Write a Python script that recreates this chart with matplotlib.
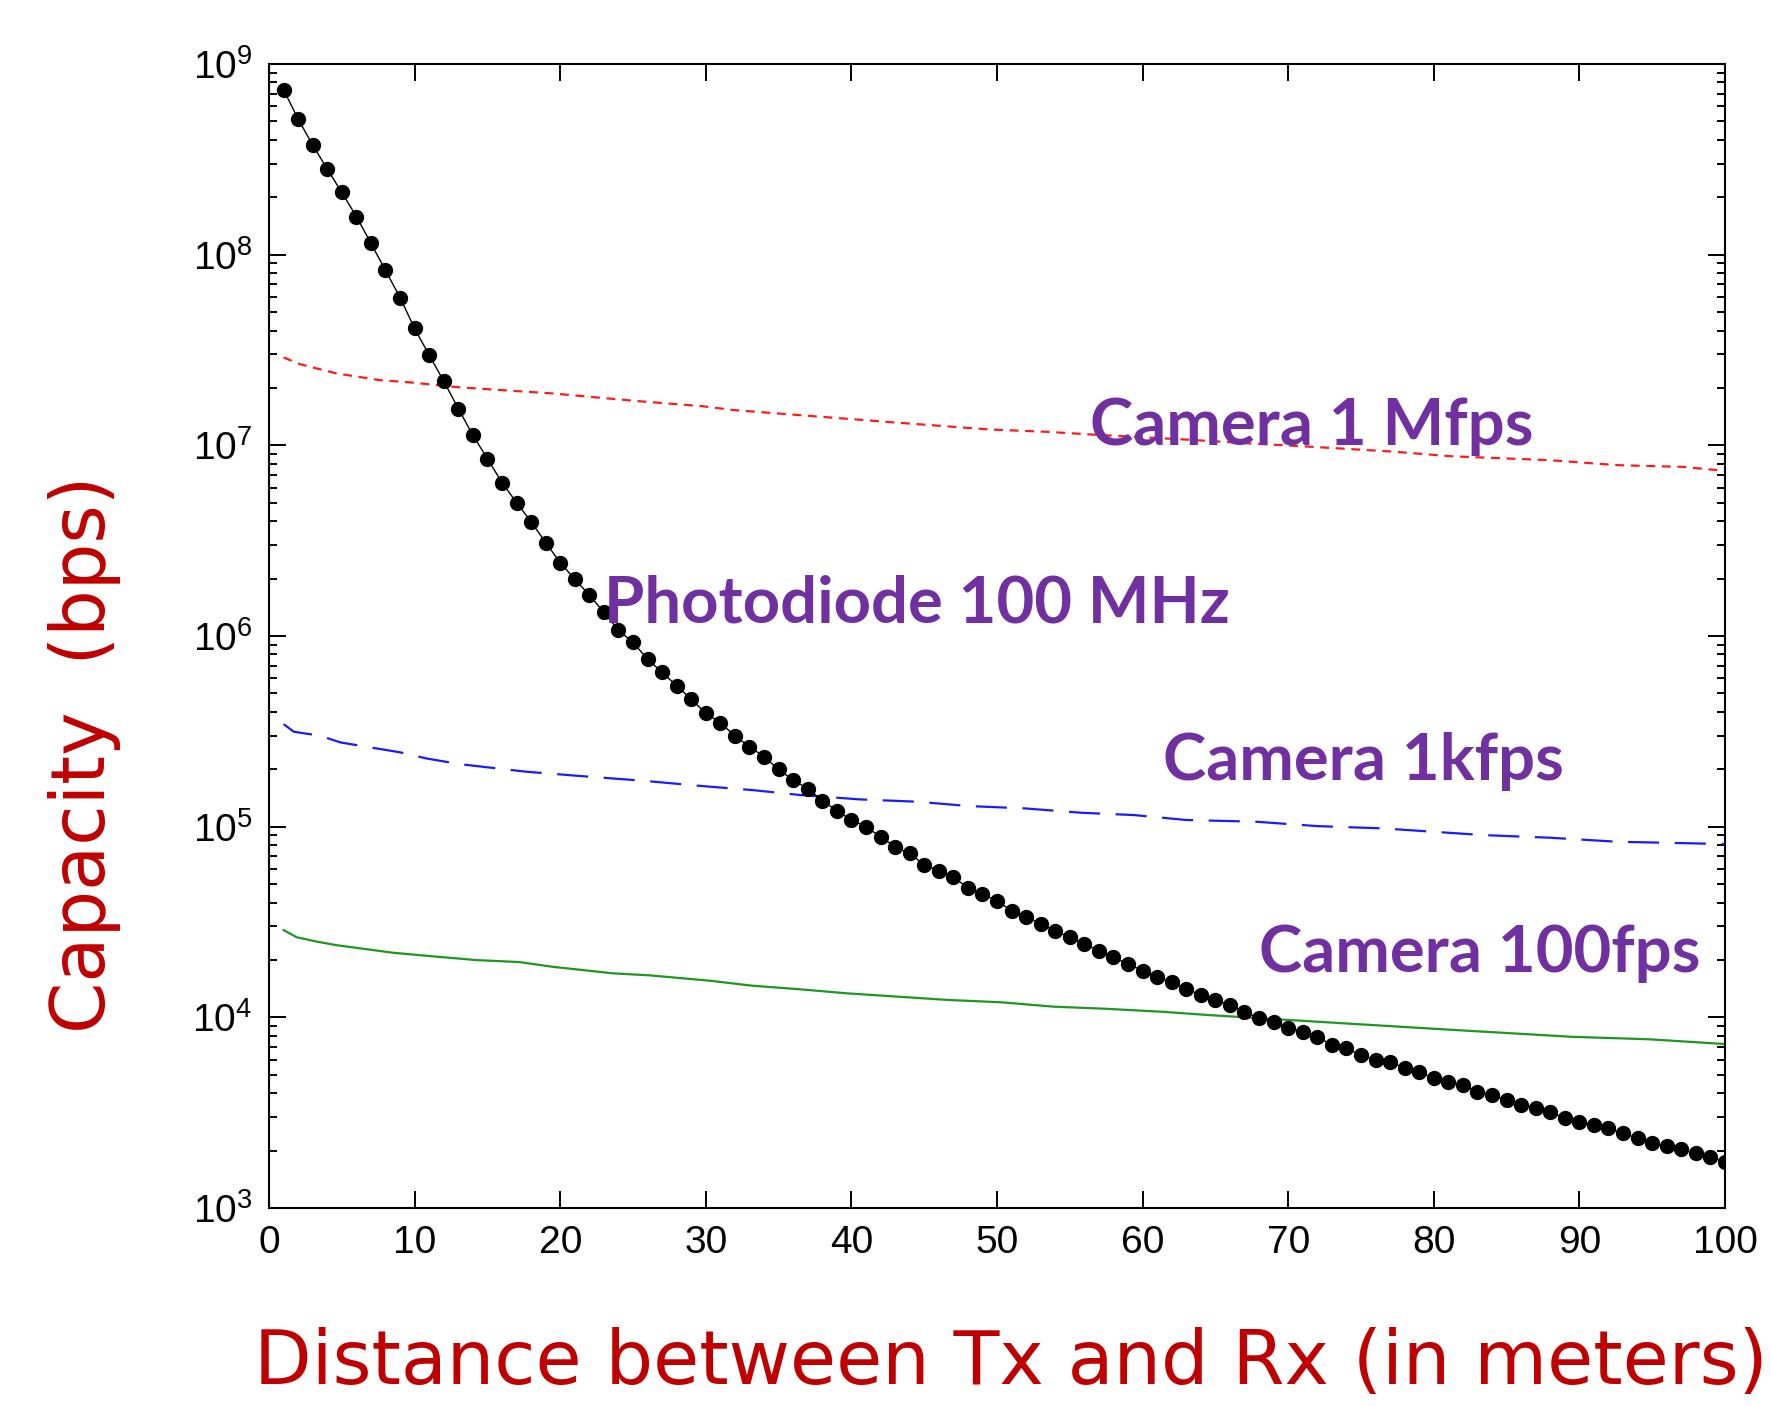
import numpy as np
import matplotlib
matplotlib.use("Agg")
import matplotlib.pyplot as plt
from matplotlib.ticker import FixedLocator, FuncFormatter, LogLocator, NullFormatter

plt.rcParams['mathtext.fontset'] = 'custom'
plt.rcParams['mathtext.rm'] = 'Liberation Sans'
plt.rcParams['mathtext.it'] = 'Liberation Sans:italic'

distance = np.arange(1, 101)
photodiode_log = [
    8.865, 8.711, 8.575, 8.449, 8.326, 8.200, 8.060, 7.917, 7.775, 7.613,
    7.473, 7.337, 7.193, 7.053, 6.930, 6.805, 6.700, 6.599, 6.490, 6.385,
    6.298, 6.215, 6.124, 6.031, 5.966, 5.879, 5.809, 5.739, 5.669, 5.594,
    5.546, 5.475, 5.420, 5.367, 5.300, 5.244, 5.200, 5.137, 5.084, 5.035,
    5.000, 4.947, 4.895, 4.860, 4.800, 4.770, 4.735, 4.680, 4.647, 4.610,
    4.560, 4.528, 4.490, 4.454, 4.420, 4.385, 4.350, 4.314, 4.280, 4.245,
    4.210, 4.185, 4.150, 4.117, 4.091, 4.064, 4.029, 3.995, 3.977, 3.942,
    3.925, 3.898, 3.855, 3.837, 3.802, 3.776, 3.767, 3.733, 3.715, 3.680,
    3.662, 3.645, 3.610, 3.593, 3.566, 3.540, 3.523, 3.505, 3.470, 3.453,
    3.435, 3.418, 3.392, 3.365, 3.342, 3.325, 3.308, 3.287, 3.269, 3.240,
]

# camera curves (x in m, log10 bps)
cam_1m_x = [1, 2.1, 4.65, 7.6, 9.7, 13.1, 19.5, 25.3, 29.8, 31.9, 36.5, 39.4, 43.3,
            49.5, 53.4, 57.1, 62.8, 67.4, 71.7, 77.4, 81.1, 88.0, 92.6, 97.1, 100]
cam_1m_log = [7.461, 7.426, 7.377, 7.342, 7.330, 7.304, 7.272, 7.232, 7.205, 7.185,
              7.158, 7.141, 7.118, 7.083, 7.071, 7.054, 7.031, 7.010, 6.992, 6.966,
              6.943, 6.922, 6.896, 6.887, 6.866]

cam_1k_x = [1, 1.7, 3.5, 4.9, 6.7, 9.0, 10.8, 13.1, 17.7, 22.0, 25.7, 29.6, 33.2, 36.5,
            40.6, 44.5, 48.1, 51.9, 55.8, 59.4, 63.0, 67.8, 72, 76.5, 83.4, 88, 92.6, 100]
cam_1k_log = [5.538, 5.498, 5.477, 5.442, 5.419, 5.390, 5.358, 5.328, 5.288, 5.262,
              5.241, 5.214, 5.192, 5.166, 5.143, 5.131, 5.108, 5.096, 5.073, 5.061,
              5.035, 5.026, 5.003, 4.991, 4.956, 4.942, 4.921, 4.909]

cam_100_x = [1, 1.9, 3.3, 4.6, 6.25, 8.5, 10.8, 14.3, 17.2, 19.5, 23.6, 26.2, 30.3, 33.2,
             36.5, 39.7, 42.5, 46.7, 50.3, 53.9, 57.5, 61.4, 64.55, 73.1, 81.6, 89.5, 94.8, 100]
cam_100_log = [4.458, 4.420, 4.397, 4.379, 4.362, 4.339, 4.323, 4.300, 4.290, 4.265,
               4.231, 4.220, 4.192, 4.166, 4.147, 4.126, 4.112, 4.091, 4.079, 4.056,
               4.045, 4.029, 4.012, 3.972, 3.933, 3.898, 3.885, 3.860]

labels = ["Camera 1 Mfps", "Photodiode 100 MHz", "Camera 1kfps", "Camera 100fps"]
label_x = [56.4, 23.0, 61.4, 68.0]
label_y = [7.10, 6.17, 5.34, 4.333]

fig = plt.figure(figsize=(17.71, 14.06), dpi=100)
ax = fig.add_axes([0.1519, 0.1408, 0.974 - 0.1519, 0.9545 - 0.1408])

ax.plot(cam_1m_x, 10 ** np.array(cam_1m_log), color='#ff1a1a', lw=1.6, dashes=(4, 3))
ax.plot(cam_1k_x, 10 ** np.array(cam_1k_log), color='#1a1aff', lw=1.6, dashes=(14, 7))
ax.plot(cam_100_x, 10 ** np.array(cam_100_log), color='#1f961f', lw=1.6)
ax.plot(distance, 10 ** np.array(photodiode_log), color='black', lw=1.0,
        marker='o', ms=10, mfc='black', mec='black')

for t, x, y in zip(labels, label_x, label_y):
    ax.text(x, 10 ** y, t, fontsize=47, fontweight='bold', family='Lato',
            color='#7030A0', va='center', ha='left')

ax.set_yscale('log')
ax.set_xlim(0, 100)
ax.set_ylim(1e3, 1e9)
ax.xaxis.set_major_locator(FixedLocator(np.arange(0, 101, 10)))
ax.yaxis.set_major_locator(LogLocator(base=10, numticks=10))
ax.yaxis.set_minor_locator(LogLocator(base=10, subs=np.arange(2, 10), numticks=10))
ax.yaxis.set_minor_formatter(NullFormatter())
ax.yaxis.set_major_formatter(FuncFormatter(lambda v, p: r'$10^{%d}$' % round(np.log10(v))))

ax.tick_params(which='both', direction='in', top=True, right=True, width=1.4)
ax.tick_params(which='major', length=12, labelsize=28, pad=12)
ax.tick_params(which='minor', length=6)
for lab in ax.get_xticklabels() + ax.get_yticklabels():
    lab.set_family('Liberation Sans')
for s in ax.spines.values():
    s.set_linewidth(1.5)

fig.text(0.0475, 0.4635, "Capacity  (bps)", rotation=90, fontsize=53,
         color='#C00000', ha='center', va='center')
fig.text(0.571, 0.03, "Distance between Tx and Rx (in meters)", fontsize=54,
         color='#C00000', ha='center', va='center')

fig.savefig('out.png', dpi=100)
